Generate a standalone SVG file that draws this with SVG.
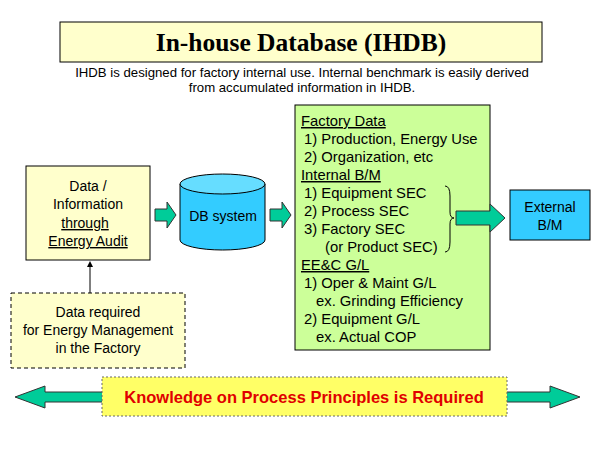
<svg xmlns="http://www.w3.org/2000/svg" width="600" height="450" viewBox="0 0 600 450">
<style>
text{font-family:"Liberation Sans",Arial,sans-serif;font-size:14px;fill:#000}
.c{text-anchor:middle}
.u{text-decoration:underline}
.g{font-size:14.8px}
.arr{fill:#00cc99;stroke:#333;stroke-width:1}
</style>
<rect width="600" height="450" fill="#fff"/>
<g id="title">
<rect x="60" y="22" width="482" height="40" fill="#ffffcc" stroke="#000"/>
<text x="301" y="51" class="c" style="font-family:'Liberation Serif',serif;font-size:25.5px;font-weight:bold">In-house Database (IHDB)</text>
<text x="302" y="77" class="c" style="font-size:13.2px">IHDB is designed for factory internal use. Internal  benchmark is easily derived</text>
<text x="302" y="92" class="c" style="font-size:13.2px">from accumulated information in IHDB.</text>
</g>
<g id="audit">
<rect x="26" y="166" width="124" height="94" fill="#ffffcc" stroke="#000"/>
<text x="88" y="191" class="c">Data /</text>
<text x="88" y="209" class="c">Information</text>
<text x="85" y="228" class="c u">through </text>
<text x="88" y="246" class="c u">Energy Audit</text>
</g>
<g id="required">
<rect x="11" y="293" width="174" height="75" fill="#ffffcc" stroke="#000" stroke-dasharray="4,3"/>
<text x="98" y="317" class="c">Data required</text>
<text x="98" y="335" class="c">for Energy Management</text>
<text x="98" y="353" class="c">in the Factory</text>
</g>
<g id="db">
<path d="M180,184 V240 A42.5,10 0 0 0 265,240 V184" fill="#33ccff" stroke="#000"/>
<ellipse cx="222.5" cy="184" rx="42.5" ry="10" fill="#66ddff" stroke="#000"/>
<text x="223" y="221" class="c">DB system</text>
</g>
<g id="factory">
<rect x="295" y="105" width="195" height="245" fill="#ccff99" stroke="#000"/>
<text x="301" y="126" class="g u">Factory Data</text>
<text x="304" y="144" class="g">1) Production, Energy Use</text>
<text x="304" y="162" class="g">2) Organization, etc</text>
<text x="301" y="180" class="g u">Internal B/M</text>
<text x="304" y="198" class="g">1) Equipment SEC</text>
<text x="304" y="216" class="g">2) Process SEC</text>
<text x="304" y="234" class="g">3) Factory SEC</text>
<text x="325" y="252" class="g">(or Product SEC)</text>
<text x="301" y="270" class="g u">EE&amp;C G/L</text>
<text x="304" y="288" class="g">1) Oper &amp; Maint G/L</text>
<text x="316" y="306" class="g">ex. Grinding Efficiency</text>
<text x="304" y="324" class="g">2) Equipment G/L</text>
<text x="316" y="342" class="g">ex. Actual COP</text>
<path d="M445,186 Q450,186 450,196 V212 Q450,218 454,218 Q450,218 450,224 V242 Q450,252 445,252" fill="none" stroke="#000"/>
</g>
<g id="external">
<rect x="510" y="190" width="80" height="50" fill="#33ccff" stroke="#000"/>
<text x="550" y="212" class="c">External</text>
<text x="550" y="230" class="c">B/M</text>
</g>
<g id="connectors">
<line x1="90" y1="293" x2="90" y2="266" stroke="#000"/>
<path d="M90,261 L87,267 L93,267 Z" fill="#000"/>
<path class="arr" d="M155,209 H167 V202 L176,215 L167,228 V221 H155 Z"/>
<path class="arr" d="M270,209 H282 V202 L291,215 L282,228 V221 H270 Z"/>
<path class="arr" d="M456,211 H490 V204 L505,218 L490,232 V225 H456 Z"/>
<path class="arr" d="M15,397 L45,386 V392 H550 V386 L580,397 L550,408 V402 H45 V408 Z"/>
</g>
<g id="banner">
<rect x="102" y="377" width="405" height="39" fill="#ffff66" stroke="#666" stroke-dasharray="2,2"/>
<text x="304" y="403" class="c" style="font-size:16.5px;font-weight:bold;fill:#e00000">Knowledge on Process Principles is Required</text>
</g>
</svg>
